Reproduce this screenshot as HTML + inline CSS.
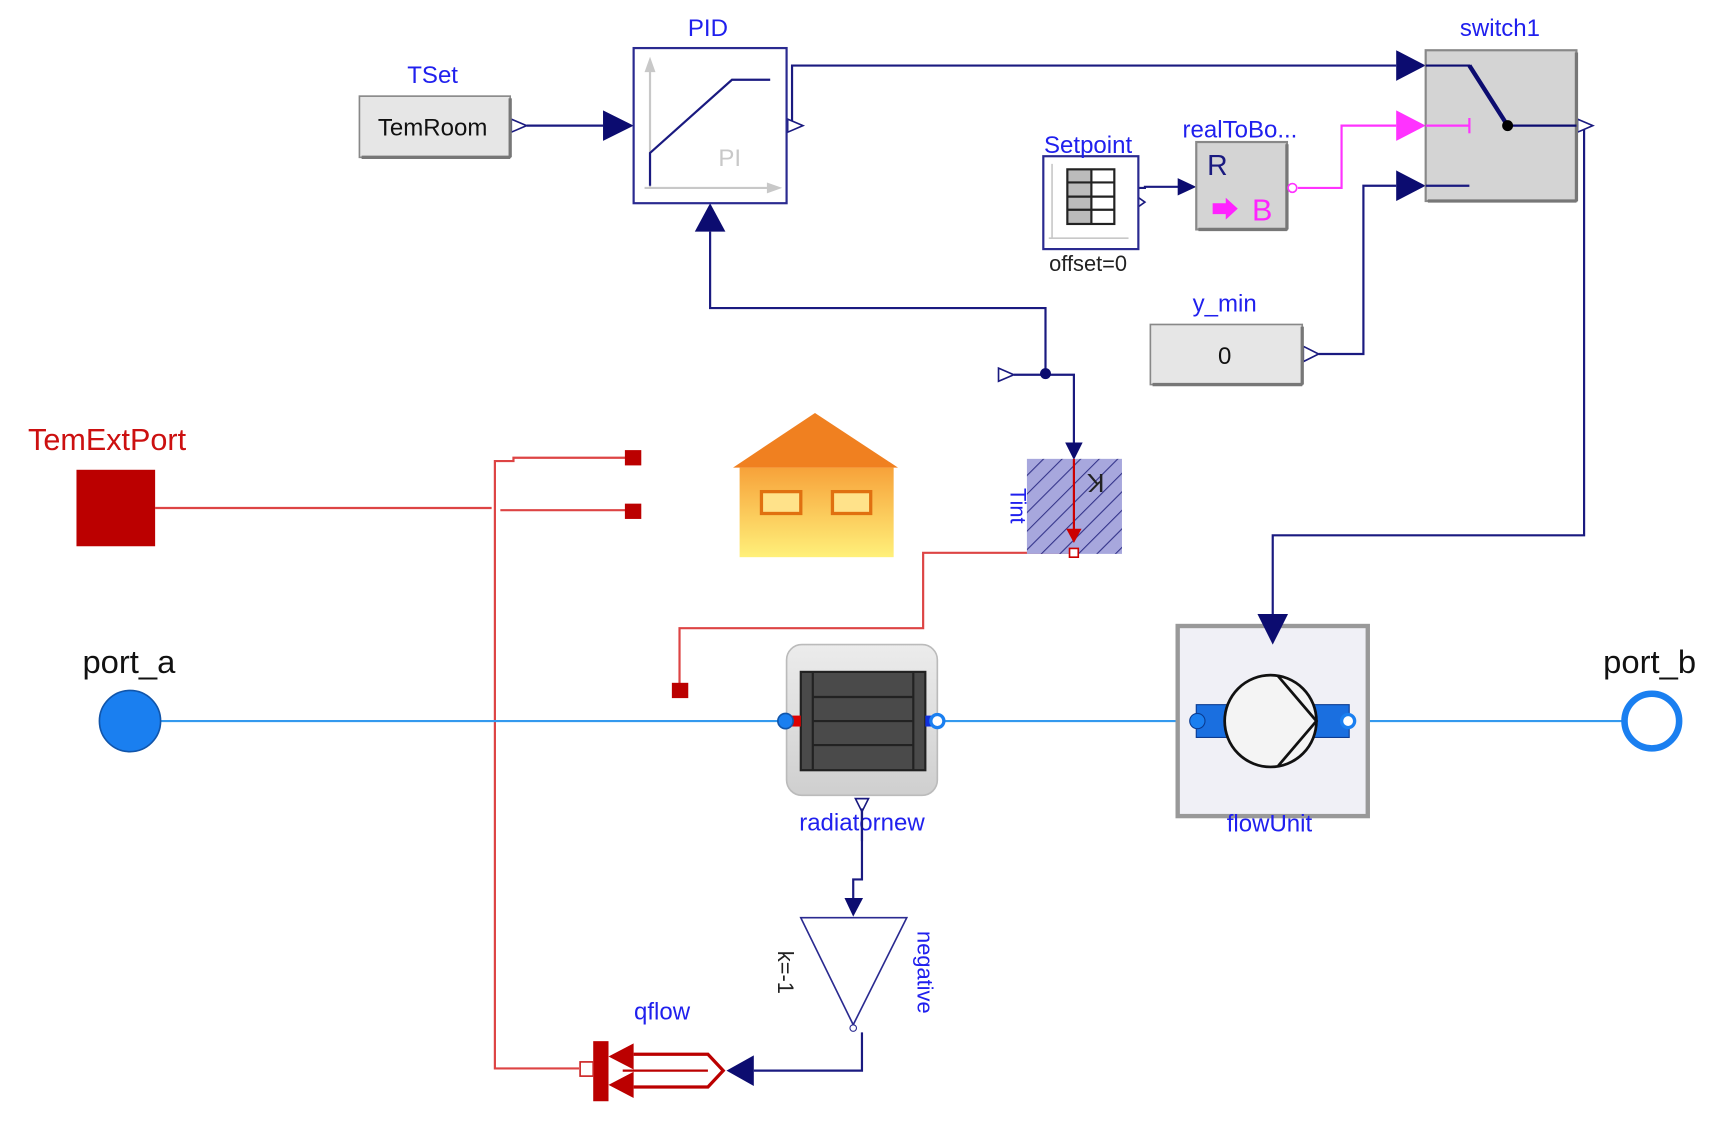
<!DOCTYPE html>
<html><head><meta charset="utf-8"><style>html,body{margin:0;padding:0;background:#fff;}svg{display:block;}</style></head><body>
<svg width="1713" height="1122" viewBox="0 0 1568 1027" preserveAspectRatio="none" xmlns="http://www.w3.org/2000/svg" font-family="Liberation Sans, sans-serif">
<defs>
<linearGradient id="hg" x1="0" y1="0" x2="0" y2="1"><stop offset="0" stop-color="#f7a23a"/><stop offset="1" stop-color="#fff07a"/></linearGradient>
<linearGradient id="rg" x1="0" y1="0" x2="0" y2="1"><stop offset="0" stop-color="#ececec"/><stop offset="1" stop-color="#cfcfcf"/></linearGradient>
<pattern id="hatch" width="12" height="12" patternUnits="userSpaceOnUse" patternTransform="rotate(45)"><rect width="12" height="12" fill="#a7a7dd"/><line x1="0" y1="0" x2="0" y2="12" stroke="#33338a" stroke-width="2"/></pattern>
</defs>
<g fill="none" stroke-width="2">
<polyline points="482,115 552,115" stroke="#1a1a80"/>
<polyline points="725,115 725,60 1278,60" stroke="#1a1a80"/>
<polyline points="1450,115 1450,490 1165,490 1165,562" stroke="#1a1a80"/>
<polyline points="1042,172 1048,172 1048,171 1080,171" stroke="#1a1a80"/>
<polyline points="1188,172 1228,172 1228,115 1278,115" stroke="#ff33ff"/>
<polyline points="1207,324 1248,324 1248,170 1278,170" stroke="#1a1a80"/>
<polyline points="650,212 650,282 957,282 957,342" stroke="#1a1a80"/>
<polyline points="928,343 983,343 983,406" stroke="#1a1a80"/>
<polyline points="789,740 789,805 781,805 781,822" stroke="#1a1a80"/>
<polyline points="789,945 789,980 690,980" stroke="#1a1a80"/>
<polyline points="142,465 450,465" stroke="#dd4444"/>
<polyline points="458,467 575,467" stroke="#dd4444"/>
<polyline points="575,419 470,419 470,422 453,422 453,978 530,978" stroke="#dd4444"/>
<polyline points="983,506 845,506 845,575 622,575 622,626" stroke="#dd4444"/>
<line x1="147" y1="660" x2="718" y2="660" stroke="#3399ee"/>
<line x1="858" y1="660" x2="1095" y2="660" stroke="#3399ee"/>
<line x1="1235" y1="660" x2="1485" y2="660" stroke="#3399ee"/>
</g>
<g fill="#0c0c70">
<polygon points="552,101 580,115 552,129"/>
<polygon points="1278,46 1305,60 1278,74"/>
<polygon points="1278,156 1305,170 1278,184"/>
<polygon points="1078,163 1095,171 1078,179"/>
<polygon points="636,212 650,186 664,212"/>
<polygon points="975,405 991,405 983,421"/>
<polygon points="773,822 790,822 781,839"/>
<polygon points="690,966 690,994 665,980"/>
<circle cx="957" cy="342" r="5"/>
</g>
<polygon points="1278,101 1305,115 1278,129" fill="#ff33ff"/>
<g fill="#fff" stroke="#1a1a80" stroke-width="1.5">
<polygon points="468,109 482,115 468,121"/>
<polygon points="721,109 735,115 721,121"/>
<polygon points="1444,109 1458,115 1444,121"/>
<polygon points="1193,317 1207,324 1193,331"/>
<polygon points="914,337 928,343 914,349"/>
<polygon points="1041,180 1048,185 1041,190"/>
<polygon points="783,731 795,731 789,743"/>
</g>
<rect x="329" y="88" width="138" height="56" fill="#e6e6e6" stroke="#888" stroke-width="1.5"/>
<line x1="331" y1="144" x2="467" y2="144" stroke="#777" stroke-width="3"/>
<line x1="467" y1="90" x2="467" y2="144" stroke="#777" stroke-width="3"/>
<text x="396" y="124" font-size="22" text-anchor="middle" fill="#111">TemRoom</text>
<text x="396" y="76" font-size="22" text-anchor="middle" fill="#2020ee">TSet</text>
<rect x="580" y="44" width="140" height="142" fill="#fff" stroke="#2a2a90" stroke-width="2"/>
<g stroke="#c8c8c8" stroke-width="2" fill="none"><line x1="595" y1="172" x2="595" y2="58"/><line x1="590" y1="172" x2="710" y2="172"/></g>
<polygon points="590,66 595,52 600,66" fill="#c8c8c8"/><polygon points="702,167 716,172 702,177" fill="#c8c8c8"/>
<polyline points="595,170 595,140 670,73 705,73" fill="none" stroke="#1a1a80" stroke-width="2"/>
<text x="668" y="152" font-size="22" text-anchor="middle" fill="#c8c8c8">PI</text>
<text x="648" y="33" font-size="22" text-anchor="middle" fill="#2020ee">PID</text>
<rect x="1305" y="46" width="138" height="138" fill="#d4d4d4" stroke="#888" stroke-width="2"/>
<line x1="1307" y1="184" x2="1443" y2="184" stroke="#777" stroke-width="3"/><line x1="1443" y1="48" x2="1443" y2="184" stroke="#777" stroke-width="3"/>
<polyline points="1305,60 1345,60 1380,115 1443,115" fill="none" stroke="#0c0c70" stroke-width="2"/>
<line x1="1345" y1="60" x2="1380" y2="115" stroke="#0c0c70" stroke-width="4"/>
<circle cx="1380" cy="115" r="5" fill="#000"/>
<line x1="1305" y1="115" x2="1345" y2="115" stroke="#ff33ff" stroke-width="2"/><line x1="1345" y1="108" x2="1345" y2="122" stroke="#ff33ff" stroke-width="2"/>
<line x1="1305" y1="170" x2="1345" y2="170" stroke="#1a1a80" stroke-width="2"/>
<text x="1373" y="33" font-size="22" text-anchor="middle" fill="#2020ee">switch1</text>
<rect x="955" y="143" width="87" height="85" fill="#fff" stroke="#2a2a90" stroke-width="2"/>
<g stroke="#c8c8c8" stroke-width="1.5"><line x1="963" y1="150" x2="963" y2="218"/><line x1="960" y1="218" x2="1033" y2="218"/></g>
<rect x="977" y="155" width="22" height="50" fill="#bbb"/>
<g stroke="#222" stroke-width="2" fill="none"><rect x="977" y="155" width="43" height="50"/><line x1="999" y1="155" x2="999" y2="205"/><line x1="977" y1="167" x2="1020" y2="167"/><line x1="977" y1="180" x2="1020" y2="180"/><line x1="977" y1="192" x2="1020" y2="192"/></g>
<text x="996" y="140" font-size="22" text-anchor="middle" fill="#2020ee">Setpoint</text>
<text x="996" y="248" font-size="20" text-anchor="middle" fill="#222">offset=0</text>
<rect x="1095" y="130" width="83" height="80" fill="#d4d4d4" stroke="#888" stroke-width="2"/>
<line x1="1097" y1="210" x2="1178" y2="210" stroke="#777" stroke-width="3"/><line x1="1178" y1="132" x2="1178" y2="210" stroke="#777" stroke-width="3"/>
<text x="1105" y="160" font-size="26" fill="#1a1a80">R</text>
<polygon points="1110,186 1122,186 1122,181 1133,191 1122,201 1122,196 1110,196" fill="#ff22ff"/>
<text x="1146" y="202" font-size="28" fill="#ff22ff">B</text>
<circle cx="1183" cy="172" r="4" fill="#fff" stroke="#ff33ff" stroke-width="1.5"/>
<text x="1135" y="126" font-size="22" text-anchor="middle" fill="#2020ee">realToBo...</text>
<rect x="1053" y="297" width="139" height="55" fill="#e6e6e6" stroke="#888" stroke-width="1.5"/>
<line x1="1055" y1="352" x2="1192" y2="352" stroke="#777" stroke-width="3"/><line x1="1192" y1="299" x2="1192" y2="352" stroke="#777" stroke-width="3"/>
<text x="1121" y="333" font-size="22" text-anchor="middle" fill="#111">0</text>
<text x="1121" y="285" font-size="22" text-anchor="middle" fill="#2020ee">y_min</text>
<rect x="940" y="420" width="87" height="87" fill="url(#hatch)"/>
<line x1="983" y1="420" x2="983" y2="490" stroke="#cc0000" stroke-width="2"/>
<polygon points="976,484 990,484 983,497" fill="#cc0000"/>
<text x="1003" y="450" font-size="24" fill="#222" text-anchor="middle" transform="rotate(180 1003 442)">K</text>
<text x="925" y="463" font-size="20" fill="#2020ee" text-anchor="middle" transform="rotate(90 925 463)">Tint</text>
<rect x="979" y="502" width="8" height="8" fill="#fff" stroke="#cc0000" stroke-width="1.5"/>
<rect x="70" y="430" width="72" height="70" fill="#bb0000"/>
<text x="98" y="412" font-size="28" text-anchor="middle" fill="#cc1010">TemExtPort</text>
<rect x="572" y="412" width="15" height="14" fill="#bb0000"/>
<rect x="572" y="461" width="15" height="14" fill="#bb0000"/>
<rect x="615" y="625" width="15" height="14" fill="#bb0000"/>
<polygon points="671,428 746,378 822,428" fill="#f08020"/>
<rect x="677" y="428" width="141" height="82" fill="url(#hg)"/>
<rect x="697" y="450" width="36" height="20" fill="#ffe28a" stroke="#e07010" stroke-width="3"/>
<rect x="762" y="450" width="35" height="20" fill="#ffe28a" stroke="#e07010" stroke-width="3"/>
<circle cx="119" cy="660" r="28" fill="#1a7ff0" stroke="#1155aa" stroke-width="1.5"/>
<text x="118" y="616" font-size="30" text-anchor="middle" fill="#111">port_a</text>
<circle cx="1512" cy="660" r="25" fill="#fff" stroke="#1a7ff0" stroke-width="6"/>
<text x="1510" y="616" font-size="30" text-anchor="middle" fill="#111">port_b</text>
<rect x="720" y="590" width="138" height="138" rx="14" fill="url(#rg)" stroke="#bbb" stroke-width="1.5"/>
<rect x="733" y="615" width="114" height="90" fill="#4a4a4a" stroke="#222" stroke-width="2"/>
<g stroke="#222" stroke-width="2"><line x1="744" y1="615" x2="744" y2="705"/><line x1="836" y1="615" x2="836" y2="705"/><line x1="744" y1="638" x2="836" y2="638"/><line x1="744" y1="660" x2="836" y2="660"/><line x1="744" y1="682" x2="836" y2="682"/></g>
<rect x="724" y="655" width="9" height="10" fill="#dd0000"/><rect x="847" y="655" width="9" height="10" fill="#1030dd"/>
<circle cx="719" cy="660" r="7" fill="#1a7ff0" stroke="#1155aa" stroke-width="1.5"/>
<circle cx="858" cy="660" r="6" fill="#fff" stroke="#1a7ff0" stroke-width="3"/>
<text x="789" y="760" font-size="22" text-anchor="middle" fill="#2020ee">radiatornew</text>
<line x1="789" y1="740" x2="789" y2="770" stroke="#1a1a80" stroke-width="2"/>
<rect x="1078" y="573" width="174" height="174" fill="#f0f0f6" stroke="#999" stroke-width="4"/>
<polygon points="1151,562 1179,562 1165,590" fill="#0c0c70"/>
<rect x="1095" y="645" width="40" height="30" fill="#1a6fe0" stroke="#0a3a90"/>
<rect x="1195" y="645" width="40" height="30" fill="#1a6fe0" stroke="#0a3a90"/>
<circle cx="1163" cy="660" r="42" fill="#f4f4f4" stroke="#111" stroke-width="2.5"/>
<polyline points="1170,619 1205,660 1170,701" fill="none" stroke="#111" stroke-width="2.5"/>
<circle cx="1096" cy="660" r="7" fill="#1a7ff0" stroke="#0a3a90"/>
<circle cx="1234" cy="660" r="6" fill="#fff" stroke="#1a7ff0" stroke-width="3"/>
<text x="1162" y="761" font-size="22" text-anchor="middle" fill="#2020ee">flowUnit</text>
<polygon points="733,840 830,840 781,938" fill="#fff" stroke="#2a2a90" stroke-width="1.5"/>
<circle cx="781" cy="941" r="3" fill="#fff" stroke="#2a2a90"/>
<text x="840" y="890" font-size="20" fill="#2020ee" text-anchor="middle" transform="rotate(90 840 890)">negative</text>
<text x="712" y="890" font-size="20" fill="#222" text-anchor="middle" transform="rotate(90 712 890)">k=-1</text>
<rect x="543" y="953" width="14" height="55" fill="#bb0000"/>
<rect x="531" y="972" width="12" height="13" fill="#fff" stroke="#cc2222" stroke-width="1.5"/>
<polygon points="557,967 580,955 580,979" fill="#bb0000"/>
<polygon points="557,993 580,981 580,1005" fill="#bb0000"/>
<polyline points="580,965 648,965 662,980 648,995 580,995" fill="none" stroke="#bb0000" stroke-width="3"/>
<line x1="570" y1="980" x2="648" y2="980" stroke="#bb0000" stroke-width="2"/>
<text x="606" y="933" font-size="22" text-anchor="middle" fill="#2020ee">qflow</text>
</svg>
</body></html>
